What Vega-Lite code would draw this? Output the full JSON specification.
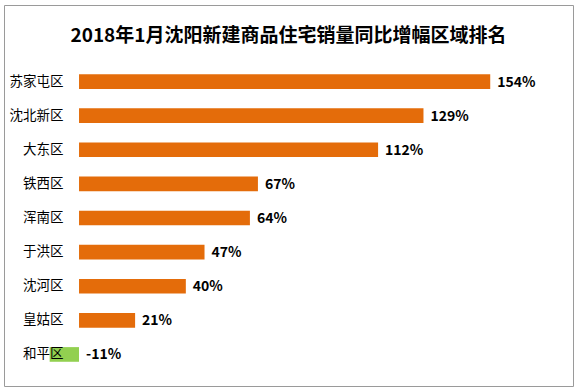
{
  "$schema": "https://vega.github.io/schema/vega-lite/v6.json",
  "width": 569,
  "height": 381,
  "autosize": {"type": "none"},
  "padding": {"left": 4, "top": 5, "right": 4, "bottom": 5},
  "background": "white",
  "config": {
    "view": {"stroke": "#9a9a9a", "strokeWidth": 1},
    "font": "Noto Sans CJK SC"
  },
  "title": {
    "text": "2018年1月沈阳新建商品住宅销量同比增幅区域排名",
    "fontSize": 19,
    "fontWeight": "bold",
    "font": "Noto Sans CJK SC",
    "color": "#000000",
    "anchor": "middle",
    "baseline": "middle",
    "offset": -28,
    "dy": 22
  },
  "data": {
    "values": [
      {"district": "苏家屯区", "growth": 154},
      {"district": "沈北新区", "growth": 129},
      {"district": "大东区", "growth": 112},
      {"district": "铁西区", "growth": 67},
      {"district": "浑南区", "growth": 64},
      {"district": "于洪区", "growth": 47},
      {"district": "沈河区", "growth": 40},
      {"district": "皇姑区", "growth": 21},
      {"district": "和平区", "growth": -11}
    ]
  },
  "transform": [
    {"calculate": "max(datum.growth, 0)", "as": "labelPos"},
    {"calculate": "datum.growth < 0 ? 'neg' : 'pos'", "as": "sign"},
    {"calculate": "datum.growth + '%'", "as": "label"}
  ],
  "encoding": {
    "y": {
      "field": "district",
      "type": "nominal",
      "sort": null,
      "scale": {"paddingInner": 0.57, "paddingOuter": 0.285, "range": [59.5, 366.5]},
      "axis": {
        "title": null,
        "domain": false,
        "ticks": false,
        "offset": -59,
        "labelPadding": 0,
        "labelFontSize": 13.5,
        "labelColor": "#000000",
        "labelFont": "Noto Sans CJK SC",
        "zindex": 1
      }
    }
  },
  "layer": [
    {
      "mark": {"type": "bar"},
      "encoding": {
        "x": {
          "field": "growth",
          "type": "quantitative",
          "scale": {"domain": [-28.1, 185], "nice": false, "zero": false},
          "axis": null
        },
        "color": {
          "field": "sign",
          "type": "nominal",
          "scale": {"domain": ["pos", "neg"], "range": ["#E46C0A", "#92D050"]},
          "legend": null
        }
      }
    },
    {
      "mark": {
        "type": "text",
        "align": "left",
        "baseline": "middle",
        "dx": 7,
        "dy": 1,
        "fontSize": 14,
        "fontWeight": "bold",
        "font": "Noto Sans CJK SC",
        "color": "#000000"
      },
      "encoding": {
        "x": {"field": "labelPos", "type": "quantitative"},
        "text": {"field": "label", "type": "nominal"}
      }
    }
  ]
}
